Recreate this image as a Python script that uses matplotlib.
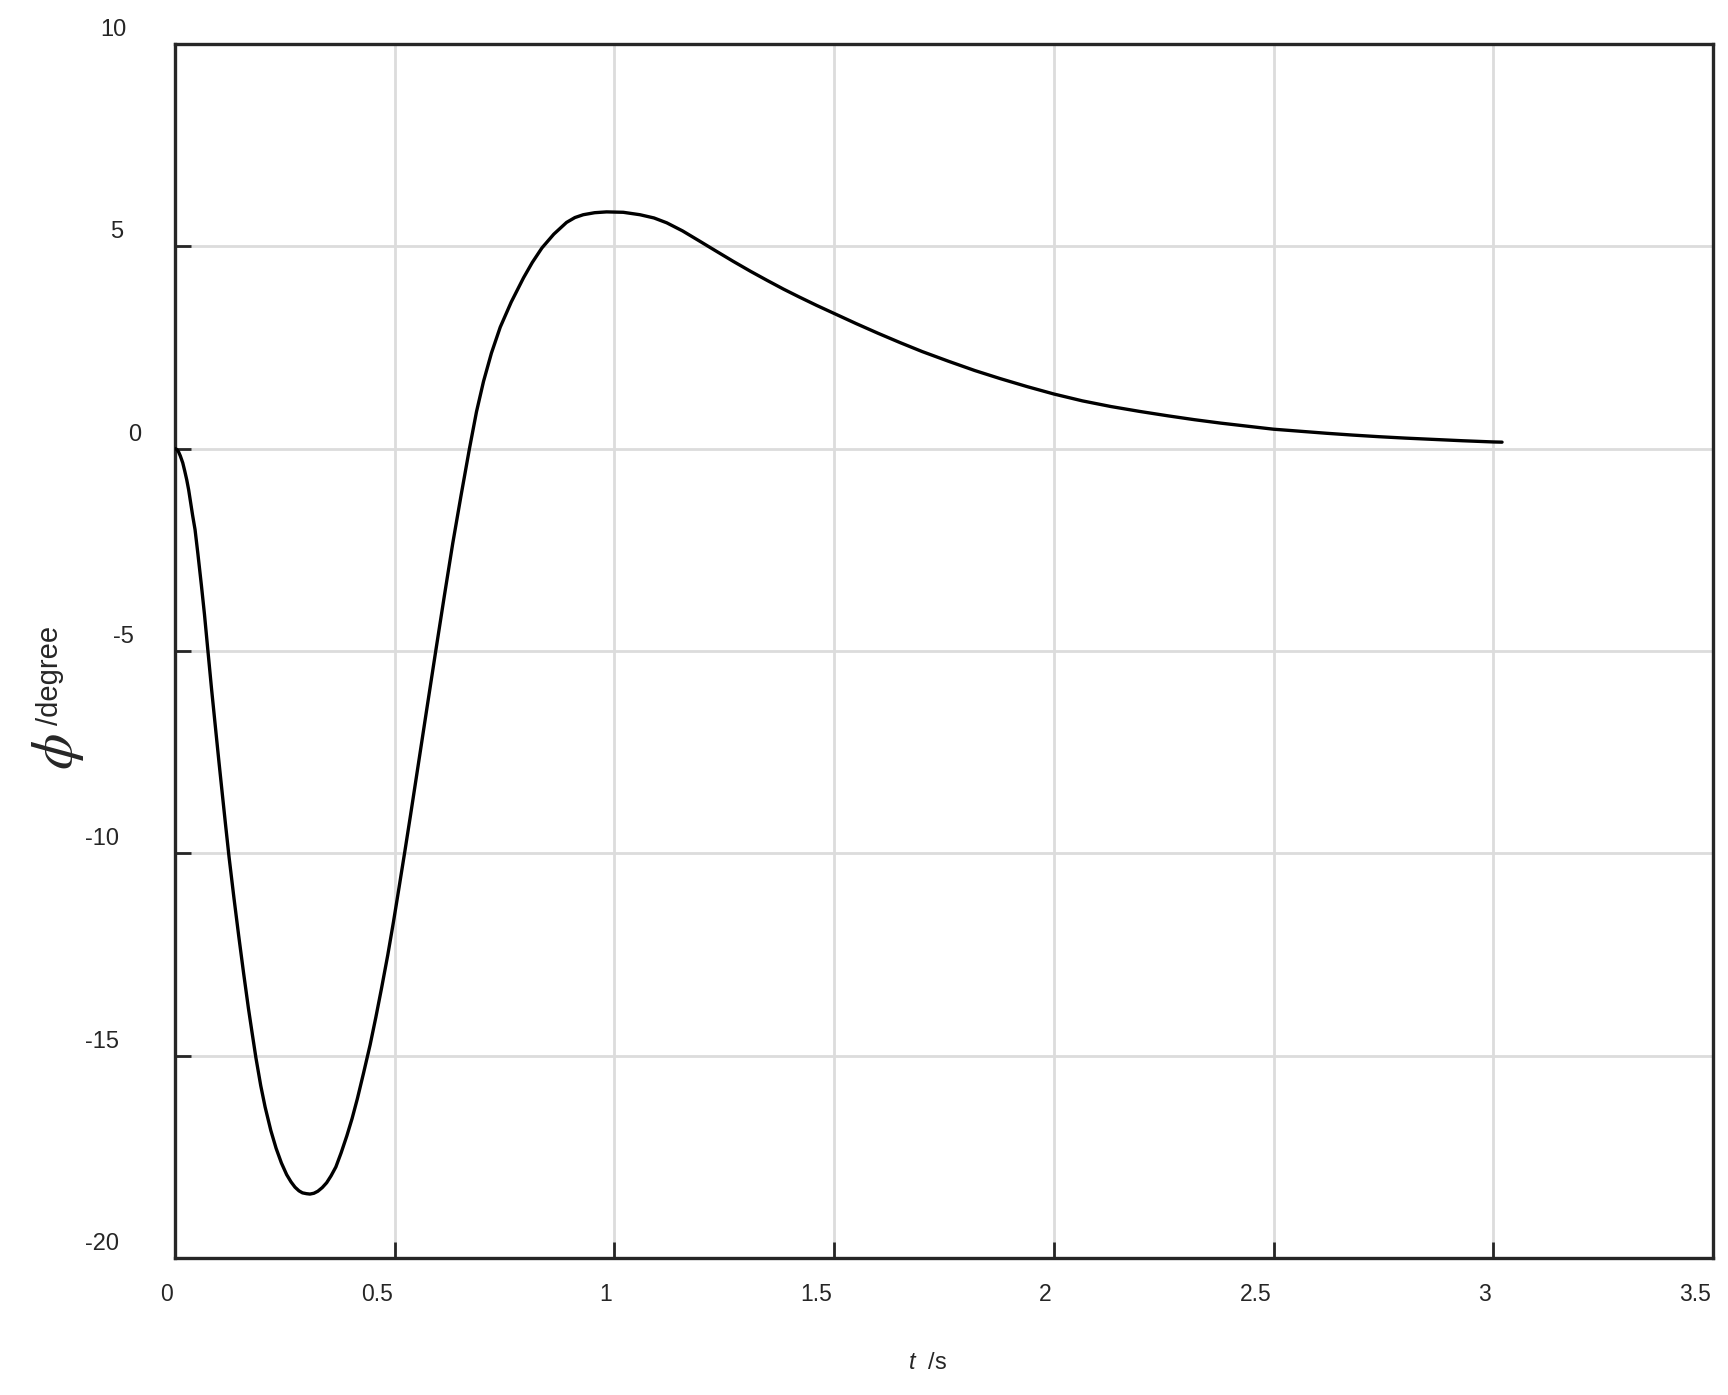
import numpy as np
import matplotlib.pyplot as plt
from matplotlib.transforms import ScaledTranslation

plt.rcParams['font.family'] = ['Liberation Sans', 'DejaVu Sans']
plt.rcParams['mathtext.fontset'] = 'custom'
plt.rcParams['mathtext.it'] = 'Liberation Sans:italic'
plt.rcParams['mathtext.rm'] = 'Liberation Sans'

# time (s) and angle (degree)
t = [0.0, 0.004, 0.008, 0.012, 0.0175, 0.022, 0.0266, 0.031, 0.035, 0.040,
     0.0455, 0.052, 0.060, 0.067, 0.0744, 0.083, 0.0926, 0.100, 0.108, 0.115,
     0.123, 0.134, 0.145, 0.156, 0.167, 0.175, 0.184, 0.195, 0.205, 0.218,
     0.230, 0.242, 0.254, 0.264, 0.273, 0.282, 0.290, 0.299, 0.307, 0.316,
     0.325, 0.335, 0.345, 0.355, 0.366, 0.378, 0.391, 0.403, 0.415, 0.429,
     0.444, 0.457, 0.470, 0.484, 0.497, 0.510, 0.523, 0.536, 0.550, 0.572,
     0.594, 0.613, 0.632, 0.651, 0.670, 0.686, 0.702, 0.720, 0.740, 0.765,
     0.793, 0.813, 0.835, 0.862, 0.891, 0.910, 0.929, 0.955, 0.982, 1.02,
     1.058, 1.09, 1.119, 1.155, 1.195, 1.23, 1.27, 1.31, 1.347, 1.385,
     1.42, 1.46, 1.5, 1.55, 1.60, 1.65, 1.70, 1.76, 1.82, 1.878,
     1.94, 2.0, 2.065, 2.13, 2.195, 2.26, 2.32, 2.38, 2.44, 2.5,
     2.56, 2.62, 2.68, 2.74, 2.8, 2.87, 2.93, 3.0, 3.02]
phi = [0.0, -0.02, -0.08, -0.18, -0.35, -0.55, -0.77, -1.02, -1.3, -1.65,
       -2.0, -2.6, -3.38, -4.1, -4.95, -5.93, -6.96, -7.75, -8.58, -9.3,
       -10.1, -11.1, -12.05, -12.96, -13.83, -14.41, -15.05, -15.74, -16.27, -16.85,
       -17.29, -17.65, -17.94, -18.12, -18.25, -18.34, -18.39, -18.41, -18.42, -18.40,
       -18.35, -18.26, -18.14, -17.97, -17.75, -17.40, -16.98, -16.55, -16.06, -15.43,
       -14.73, -14.05, -13.33, -12.52, -11.70, -10.83, -9.95, -9.05, -8.06, -6.5,
       -4.95, -3.63, -2.34, -1.15, 0.0, 0.91, 1.66, 2.36, 3.0, 3.62,
       4.22, 4.6, 4.96, 5.30, 5.59, 5.71, 5.78, 5.83, 5.85, 5.84,
       5.78, 5.70, 5.58, 5.38, 5.12, 4.89, 4.63, 4.38, 4.16, 3.94,
       3.75, 3.54, 3.34, 3.09, 2.85, 2.62, 2.40, 2.16, 1.93, 1.73,
       1.53, 1.35, 1.18, 1.04, 0.92, 0.81, 0.715, 0.63, 0.555, 0.48,
       0.43, 0.38, 0.335, 0.295, 0.26, 0.225, 0.195, 0.165, 0.16]

xticks = [0, 0.5, 1, 1.5, 2, 2.5, 3, 3.5]
xticklabels = ['0', '0.5', '1', '1.5', '2', '2.5', '3', '3.5']
yticks = [-20, -15, -10, -5, 0, 5, 10]
yticklabels = ['-20', '-15', '-10', '-5', '0', '5', '10']

dark = '#262626'

fig = plt.figure(figsize=(17.28, 13.95), dpi=100)
ax = fig.add_axes([0.1013, 0.0982, 0.89, 0.8703])

ax.plot(t, phi, color='black', lw=2.4, solid_joinstyle='round',
        solid_capstyle='round', zorder=3)

ax.set_xlim(0, 3.5)
ax.set_ylim(-20, 10)
ax.set_xticks(xticks)
ax.set_xticklabels(xticklabels)
ax.set_yticks(yticks)
ax.set_yticklabels(yticklabels)

ax.grid(True, color='#dcdcdc', lw=2.0, zorder=0)
ax.set_axisbelow(True)
for s in ax.spines.values():
    s.set_color(dark)
    s.set_linewidth(2.4)

ax.tick_params(axis='both', direction='in', length=11.5, width=2.0,
               color=dark, labelcolor=dark)
ax.tick_params(axis='x', pad=18, labelsize=16.5)
ax.tick_params(axis='y', pad=40, labelsize=17)

for lab in ax.get_xticklabels():
    lab.set_horizontalalignment('right')
    lab.set_transform(lab.get_transform() + ScaledTranslation(-0.02, 0, fig.dpi_scale_trans))

# the y labels in the reference are not lined up evenly; nudge them (pixels)
ylab_shift = [0, 0, 0, 14, 22, 4, 7]
for lab, dx in zip(ax.get_yticklabels(), ylab_shift):
    lab.set_verticalalignment('baseline')
    lab.set_transform(lab.get_transform() + ScaledTranslation(dx / 100, 0.08, fig.dpi_scale_trans))

# axis labels
fig.text(0.5367, 0.0229, r'$t$  /s', fontsize=17, color=dark, ha='center', va='center')
fig.text(0.0335, 0.4615, r'$\phi$', fontsize=42, color=dark, rotation=90,
         ha='center', va='center', math_fontfamily='stix')
fig.text(0.029, 0.5155, '/degree', fontsize=21, color=dark, rotation=90,
         ha='center', va='center')

fig.savefig('out.png', dpi=100, facecolor='white')
